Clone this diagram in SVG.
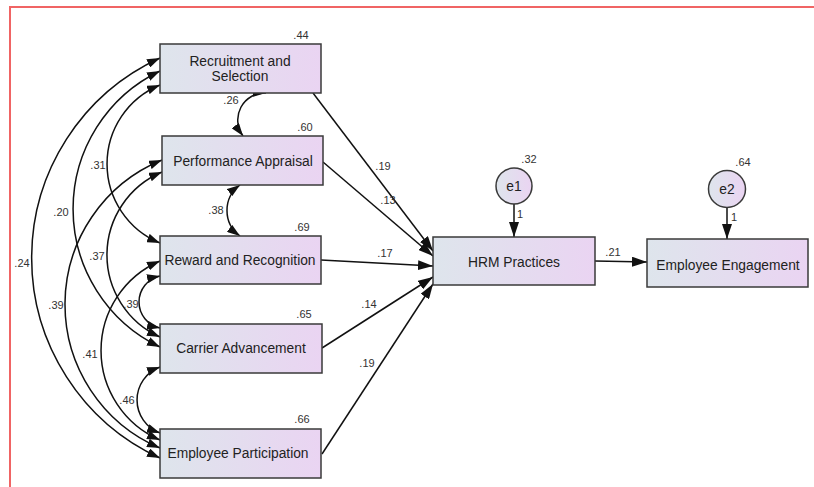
<svg xmlns="http://www.w3.org/2000/svg" width="814" height="487" viewBox="0 0 814 487">
  <style>
    .box { stroke: #3a3a3a; stroke-width: 1.5; fill: url(#boxFill); }
    .err { stroke: #3a3a3a; stroke-width: 1.5; fill: url(#boxFill); }
    .name { font-family: "Liberation Sans", Arial, sans-serif; font-size: 13.8px; fill: #222; text-anchor: middle; }
    .est { font-family: "Liberation Sans", Arial, sans-serif; font-size: 11px; fill: #333; text-anchor: middle; }
    .path { stroke: #111; stroke-width: 1.5; fill: none; marker-end: url(#head); }
    .cov { stroke: #111; stroke-width: 1.5; fill: none; marker-start: url(#headSm); marker-end: url(#headSm); }
  </style>
  <defs>
    <linearGradient id="boxFill" x1="0" y1="0" x2="1" y2="0">
      <stop offset="0" stop-color="#dee5ec"/>
      <stop offset="1" stop-color="#ead4f2"/>
    </linearGradient>
    <marker id="head" viewBox="0 0 15 10" refX="15" refY="5" markerWidth="15" markerHeight="10" orient="auto" markerUnits="userSpaceOnUse">
      <path d="M0,0 L15,5 L0,10 z" fill="#111"/>
    </marker>
    <marker id="headSm" viewBox="0 0 13 9" refX="13" refY="4.5" markerWidth="13" markerHeight="9" orient="auto-start-reverse" markerUnits="userSpaceOnUse">
      <path d="M0,0 L13,4.5 L0,9 z" fill="#111"/>
    </marker>
  </defs>

  <rect width="814" height="487" fill="#fff"/>
  <!-- frame -->
  <path d="M10,487 L10,7 L814,7" fill="none" stroke="#f06464" stroke-width="2"/>

  <!-- connectors -->
  <g id="connectors">
    <!-- regression paths -->
    <path class="path" d="M313,93 L433,251"/>
    <path class="path" d="M323,162 L433,256"/>
    <path class="path" d="M321,260 L433,266"/>
    <path class="path" d="M322,348 L433,277"/>
    <path class="path" d="M322,454 L433,284"/>
    <path class="path" d="M595,261 L647,262"/>
    <path class="path" d="M514,204 L514,237"/>
    <path class="path" d="M727,208 L727,239"/>
    <!-- covariances -->
    <path class="cov" d="M160,58 A220,220 0 0 0 160,458"/>
    <path class="cov" d="M160,71 A153,153 0 0 0 160,347"/>
    <path class="cov" d="M160,85 A85.4,85.4 0 0 0 160,243"/>
    <path class="cov" d="M162,172 A90,90 0 0 0 160,337"/>
    <path class="cov" d="M162,160 A156,156 0 0 0 160,448"/>
    <path class="cov" d="M160,261 A97.4,97.4 0 0 0 160,440"/>
    <path class="cov" d="M160,276 A26.6,26.6 0 0 0 160,328"/>
    <path class="cov" d="M160,367 A35.2,35.2 0 0 0 160,433"/>
    <path class="cov" d="M266,93 A27,27 0 0 0 243,136"/>
    <path class="cov" d="M240,185 A31.5,31.5 0 0 0 240,236"/>
    <!-- estimates -->
    <text class="est" x="383" y="170">.19</text>
    <text class="est" x="388" y="204">.13</text>
    <text class="est" x="385" y="257">.17</text>
    <text class="est" x="369" y="308">.14</text>
    <text class="est" x="367" y="367">.19</text>
    <text class="est" x="613" y="256">.21</text>
    <text class="est" x="520" y="218">1</text>
    <text class="est" x="734" y="221">1</text>
    <text class="est" x="231" y="104">.26</text>
    <text class="est" x="216" y="214">.38</text>
    <text class="est" x="98" y="169">.31</text>
    <text class="est" x="61" y="216">.20</text>
    <text class="est" x="22" y="267">.24</text>
    <text class="est" x="97" y="260">.37</text>
    <text class="est" x="56" y="309">.39</text>
    <text class="est" x="131" y="308">.39</text>
    <text class="est" x="90" y="358">.41</text>
    <text class="est" x="127" y="404">.46</text>
  </g>

  <g id="recruitment">
    <rect class="box" x="160" y="44" width="161" height="49"/>
    <text class="name" x="240" y="66">Recruitment and</text>
    <text class="name" x="240" y="81">Selection</text>
    <text class="est" x="301" y="39">.44</text>
  </g>
  <g id="appraisal">
    <rect class="box" x="162" y="136" width="161" height="49"/>
    <text class="name" x="243" y="166">Performance Appraisal</text>
    <text class="est" x="305" y="131">.60</text>
  </g>
  <g id="reward">
    <rect class="box" x="160" y="236" width="161" height="48"/>
    <text class="name" x="240" y="265">Reward and Recognition</text>
    <text class="est" x="302" y="231">.69</text>
  </g>
  <g id="carrier">
    <rect class="box" x="160" y="324" width="162" height="49"/>
    <text class="name" x="241" y="353">Carrier Advancement</text>
    <text class="est" x="304" y="318">.65</text>
  </g>
  <g id="participation">
    <rect class="box" x="160" y="429" width="161" height="49"/>
    <text class="name" x="238" y="458">Employee Participation</text>
    <text class="est" x="302" y="423">.66</text>
  </g>
  <g id="hrm">
    <rect class="box" x="433" y="237" width="162" height="48"/>
    <text class="name" x="514" y="267">HRM Practices</text>
  </g>
  <g id="engagement">
    <rect class="box" x="647" y="239" width="161" height="48"/>
    <text class="name" x="728" y="270">Employee Engagement</text>
  </g>
  <g id="e1">
    <circle class="err" cx="514" cy="186" r="18"/>
    <text class="name" x="514" y="191">e1</text>
    <text class="est" x="529" y="163">.32</text>
  </g>
  <g id="e2">
    <circle class="err" cx="727" cy="189" r="18.5"/>
    <text class="name" x="727" y="194">e2</text>
    <text class="est" x="743" y="166">.64</text>
  </g>
</svg>
